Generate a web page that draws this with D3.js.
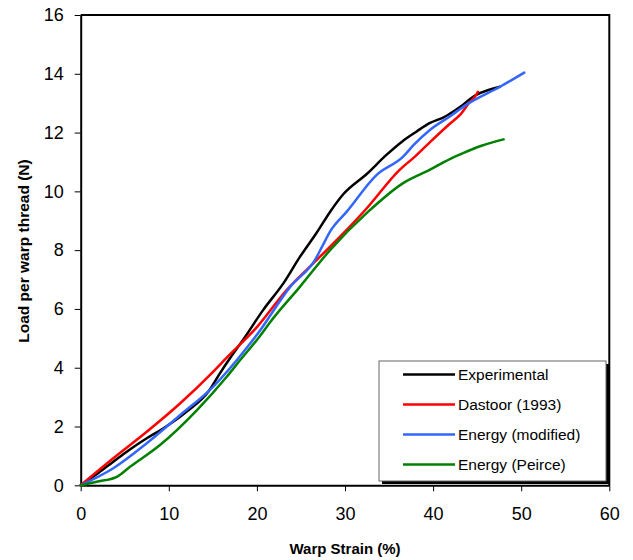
<!DOCTYPE html>
<html>
<head>
<meta charset="utf-8">
<script src="https://cdn.jsdelivr.net/npm/d3@7"></script>
<style>
  html, body { margin: 0; padding: 0; background: #fff; }
  svg { display: block; font-family: "Liberation Sans", Arial, sans-serif; }
</style>
</head>
<body>
<svg id="chart" width="633" height="560"></svg>
<script>
// Load–strain curves for a warp thread: experiment vs. three models
const seriesNames = ["Experimental", "Dastoor (1993)", "Energy (modified)", "Energy (Peirce)"];
const seriesColors = ["#000000", "#ff0000", "#3366ff", "#008000"];

const experimentalStrain = [0, 2, 3.7, 5.5, 7.5, 9.4, 12, 14.5, 15.8, 17, 18.5, 20.7, 23, 24.9, 26.8, 28.3, 29.8, 32.5, 34.7, 36.5, 38.1, 39.6, 41.2, 42.8, 44.9, 47.6];
const experimentalLoad   = [0, 0.42, 0.80, 1.2, 1.6, 1.94, 2.5, 3.19, 3.81, 4.35, 4.98, 5.96, 6.87, 7.78, 8.6, 9.3, 9.9, 10.6, 11.24, 11.7, 12.03, 12.32, 12.52, 12.82, 13.28, 13.56];

const dastoorStrain = [0, 3.7, 7.5, 11.3, 15.05, 16.6, 20, 23.4, 26.8, 29.8, 32.4, 36.2, 38, 39.6, 41.9, 43.05, 44.2, 44.75, 45.1];
const dastoorLoad   = [0, 0.92, 1.82, 2.79, 3.87, 4.35, 5.38, 6.65, 7.67, 8.57, 9.4, 10.73, 11.2, 11.66, 12.3, 12.6, 13.05, 13.22, 13.39];

const modifiedStrain = [0, 3.7, 7.5, 11.3, 15.05, 17.8, 20, 23.8, 26.6, 27.4, 28.3, 30.2, 33.6, 36.6, 37.8, 39.6, 41.9, 43.8, 47.6, 50.35];
const modifiedLoad   = [0, 0.58, 1.43, 2.39, 3.36, 4.29, 5.12, 6.76, 7.67, 8.12, 8.63, 9.31, 10.56, 11.18, 11.58, 12.08, 12.55, 12.95, 13.56, 14.04];

const peirceStrain = [0, 1.8, 4.1, 5.6, 9, 13.2, 16.6, 18.1, 20.35, 21.5, 24.9, 28.3, 32.6, 36.6, 39.6, 41.9, 43.4, 45.5, 48];
const peirceLoad   = [0, 0.12, 0.29, 0.63, 1.37, 2.56, 3.7, 4.26, 5.08, 5.55, 6.76, 8.0, 9.3, 10.28, 10.73, 11.1, 11.3, 11.55, 11.77];

const xTicks = [0, 10, 20, 30, 40, 50, 60];
const yTicks = [0, 2, 4, 6, 8, 10, 12, 14, 16];
const xTitle = "Warp Strain (%)";
const yTitle = "Load per warp thread (N)";

const strainSets = [experimentalStrain, dastoorStrain, modifiedStrain, peirceStrain];
const loadSets = [experimentalLoad, dastoorLoad, modifiedLoad, peirceLoad];

const svg = d3.select("#chart");
const plotLeft = 80.7, plotRight = 609.3, plotTop = 15, plotBottom = 485.3;

const x = d3.scaleLinear().domain([0, 60]).range([plotLeft, plotRight]);
const y = d3.scaleLinear().domain([0, 16]).range([plotBottom, plotTop]);

// Frame: top and right borders
svg.append("path")
  .attr("d", `M${plotLeft},${plotTop}H${plotRight}V${plotBottom}`)
  .attr("fill", "none").attr("stroke", "#000").attr("stroke-width", 2);

// Axes
const xAxis = svg.append("g")
  .attr("transform", `translate(0,${plotBottom})`)
  .call(d3.axisBottom(x).tickValues(xTicks).tickSize(6).tickPadding(16).tickSizeOuter(0));
const yAxis = svg.append("g")
  .attr("transform", `translate(${plotLeft},0)`)
  .call(d3.axisLeft(y).tickValues(yTicks).tickSize(6).tickPadding(11).tickSizeOuter(0));

[xAxis, yAxis].forEach(g => {
  g.select(".domain").attr("stroke", "#000").attr("stroke-width", 2);
  g.selectAll(".tick line").attr("stroke", "#000").attr("stroke-width", 1);
  g.selectAll(".tick text")
    .attr("fill", "#000")
    .style("font-family", '"Liberation Sans", Arial, sans-serif')
    .style("font-size", "18px");
});

// Axis titles
svg.append("text")
  .attr("x", 345).attr("y", 554)
  .attr("text-anchor", "middle")
  .style("font-weight", "bold").style("font-size", "15px")
  .text(xTitle);
svg.append("text")
  .attr("transform", `translate(28.5,251) rotate(-90)`)
  .attr("text-anchor", "middle")
  .style("font-weight", "bold").style("font-size", "15.5px")
  .text(yTitle);

// Curves
const line = d3.line()
  .x(d => x(d[0]))
  .y(d => y(d[1]))
  .curve(d3.curveMonotoneX);

seriesNames.forEach((name, i) => {
  const pts = strainSets[i].map((s, k) => [s, loadSets[i][k]]);
  svg.append("path")
    .datum(pts)
    .attr("fill", "none")
    .attr("stroke", seriesColors[i])
    .attr("stroke-width", 2.5)
    .attr("stroke-linejoin", "round")
    .attr("stroke-linecap", "round")
    .attr("d", line);
});

// Legend box with drop shadow
const lg = { x: 379, y: 361, w: 227, h: 120 };
svg.append("rect")
  .attr("x", lg.x + 3).attr("y", lg.y + 3)
  .attr("width", lg.w).attr("height", lg.h)
  .attr("fill", "#000");
svg.append("rect")
  .attr("x", lg.x).attr("y", lg.y)
  .attr("width", lg.w).attr("height", lg.h)
  .attr("fill", "#fff").attr("stroke", "#666").attr("stroke-width", 1);

const rowY = d3.scalePoint().domain(seriesNames).range([374.5, 464.5]);
const items = svg.append("g").selectAll("g")
  .data(seriesNames)
  .join("g")
  .attr("transform", d => `translate(0,${rowY(d)})`);
items.append("line")
  .attr("x1", 403).attr("x2", 455)
  .attr("stroke", (d, i) => seriesColors[i])
  .attr("stroke-width", 2.5);
items.append("text")
  .attr("x", 458).attr("y", 5.5)
  .style("font-size", "15.5px")
  .text(d => d);
</script>
</body>
</html>
